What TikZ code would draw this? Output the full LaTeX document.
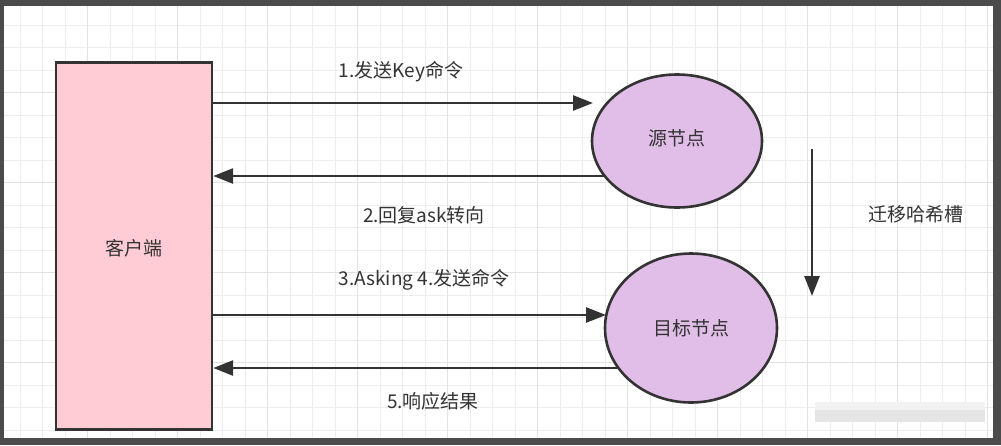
\documentclass[tikz,border=0pt]{standalone}
\usepackage{fontspec}
\setmainfont{Noto Sans CJK SC}
\usetikzlibrary{arrows.meta,shapes.geometric}
\definecolor{frame}{HTML}{4B4B4B}
\definecolor{ink}{HTML}{333333}
\definecolor{pinkfill}{HTML}{FFCCD5}
\definecolor{lavfill}{HTML}{E1BEE7}
\definecolor{gridminor}{HTML}{EDEDED}
\definecolor{gridmajor}{HTML}{E2E2E2}
\tikzset{
  lbl/.style={text=ink, font=\fontsize{19}{22}\selectfont, inner sep=0pt},
  clientbox/.style={draw=ink, line width=2.4pt, fill=pinkfill, minimum width=156pt, minimum height=367pt, inner sep=0pt},
  nodeell/.style={ellipse, draw=ink, line width=2.6pt, fill=lavfill, inner sep=0pt},
  conn/.style={draw=ink, line width=2.6pt, -{Triangle[length=20pt,width=15pt]}},
}
\begin{document}
\begin{tikzpicture}[x=1pt,y=-1pt]
\useasboundingbox (0,0) rectangle (1001,445);
\fill[frame] (0,0) rectangle (1001,445);
\fill[white] (4,6) rectangle (993,438);
\begin{scope}
\clip (4,6) rectangle (993,438);
\foreach \i in {0,...,44} {
  \draw[gridminor, line width=1pt] ({-2.5+22.5*\i},6) -- ({-2.5+22.5*\i},438);
}
\foreach \j in {0,...,19} {
  \draw[gridminor, line width=1pt] (4,{2.5+22.5*\j}) -- (993,{2.5+22.5*\j});
}
\foreach \i in {0,...,11} {
  \draw[gridmajor, line width=1.2pt] ({-2.5+90*\i},6) -- ({-2.5+90*\i},438);
}
\foreach \j in {0,...,5} {
  \draw[gridmajor, line width=1.2pt] (4,{2.5+90*\j}) -- (993,{2.5+90*\j});
}
\end{scope}
% blurred watermark
\fill[black!10] (815,402) rectangle (985,422);
\fill[black!5] (815,402) rectangle (985,410);

\node[clientbox] (client) at (134,246) {};
\node[lbl] (clientlbl) at (134,248) {客户端};

\node[nodeell, minimum width=170pt, minimum height=133pt] (src) at (677,141) {};
\node[lbl] (srclbl) at (677,138) {源节点};
\node[nodeell, minimum width=172pt, minimum height=149pt] (dst) at (691,328) {};
\node[lbl] (dstlbl) at (691,328) {目标节点};

\coordinate (a1s) at (client.east |- 0,103);
\coordinate (a1e) at (593,103);
\draw[conn] (a1s) -- (a1e);
\node[lbl] (l1) at (401,72) {1.发送Key命令};

\coordinate (a2s) at (606,176);
\coordinate (a2e) at (client.east |- 0,176);
\draw[conn] (a2s) -- (a2e);
\node[lbl] (l2) at (424,215) {2.回复ask转向};

\coordinate (a3s) at (client.east |- 0,315);
\coordinate (a3e) at (606,315);
\draw[conn] (a3s) -- (a3e);
\node[lbl] (l3) at (424,280) {3.Asking 4.发送命令};

\coordinate (a5s) at (617,368);
\coordinate (a5e) at (client.east |- 0,368);
\draw[conn] (a5s) -- (a5e);
\node[lbl] (l5) at (433,401) {5.响应结果};

\coordinate (m1) at (812,149);
\coordinate (m2) at (812,296);
\draw[conn] (m1) -- (m2);
\node[lbl] (ml) at (916,214) {迁移哈希槽};
\end{tikzpicture}
\end{document}
